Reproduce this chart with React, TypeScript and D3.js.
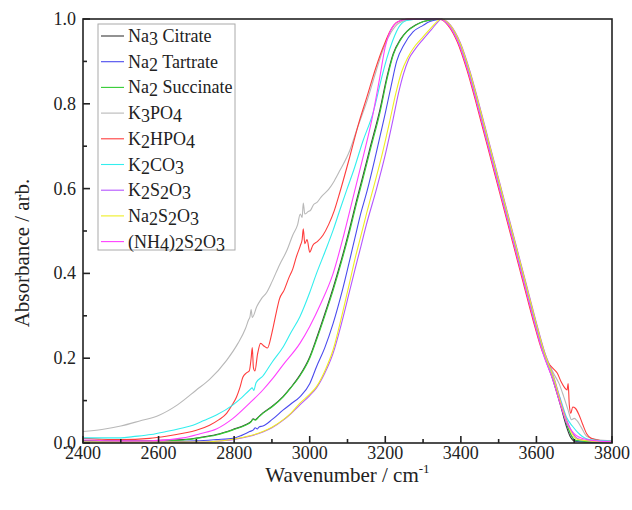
import React from "react";
import * as d3 from "d3";

const W = 632;
const H = 510;
const M = { left: 83, right: 612, top: 19, bottom: 443 };

const xTicks = [2400, 2600, 2800, 3000, 3200, 3400, 3600, 3800];
const xMinorTicks = [2500, 2700, 2900, 3100, 3300, 3500, 3700];
const yTicks = [0, 0.2, 0.4, 0.6, 0.8, 1.0];
const yMinorTicks = [0.1, 0.3, 0.5, 0.7, 0.9];

const seriesNames = [
  "Na3 Citrate",
  "Na2 Tartrate",
  "Na2 Succinate",
  "K3PO4",
  "K2HPO4",
  "K2CO3",
  "K2S2O3",
  "Na2S2O3",
  "(NH4)2S2O3",
];
const seriesColors = [
  "#3a3a3a",
  "#4a4aee",
  "#33cc33",
  "#b8b8b8",
  "#ff3c3c",
  "#33eeee",
  "#b455ff",
  "#eeee22",
  "#ff40ff",
];

type P = [number, number];

const na3Citrate: P[] = [
  [2400, 0.005], [2500, 0.005], [2600, 0.006], [2665, 0.008], [2710, 0.013], [2753, 0.02],
  [2797, 0.032], [2830, 0.043], [2845, 0.051], [2850, 0.057], [2856, 0.055], [2866, 0.063],
  [2876, 0.071], [2900, 0.086], [2930, 0.11], [2950, 0.131], [2974, 0.16], [3000, 0.203],
  [3018, 0.247], [3040, 0.305], [3062, 0.366], [3085, 0.436], [3106, 0.507], [3124, 0.572],
  [3140, 0.627], [3160, 0.697], [3186, 0.787], [3205, 0.866], [3221, 0.918], [3240, 0.952],
  [3257, 0.971], [3280, 0.986], [3301, 0.994], [3330, 0.999], [3344, 1.0],
  [3369, 0.985], [3394, 0.945], [3419, 0.88], [3444, 0.8], [3469, 0.715], [3494, 0.63],
  [3519, 0.545], [3544, 0.46], [3569, 0.375], [3594, 0.29], [3619, 0.21], [3644, 0.148],
  [3664, 0.088], [3679, 0.04], [3690, 0.014], [3702, 0.004], [3740, 0.002], [3800, 0.001],
];

const na2Tartrate: P[] = [
  [2400, 0.003], [2600, 0.003], [2700, 0.005], [2753, 0.008], [2797, 0.011], [2820, 0.018],
  [2841, 0.027], [2851, 0.031], [2856, 0.036], [2861, 0.033], [2866, 0.038], [2876, 0.04],
  [2900, 0.055], [2930, 0.078], [2950, 0.092], [2974, 0.109], [3000, 0.14], [3018, 0.18],
  [3040, 0.225], [3062, 0.282], [3085, 0.355], [3106, 0.432], [3120, 0.485], [3133, 0.534],
  [3152, 0.595], [3175, 0.68], [3199, 0.774], [3215, 0.84], [3230, 0.9], [3250, 0.94],
  [3274, 0.97], [3300, 0.985], [3318, 0.994], [3340, 0.999], [3348, 1.0],
  [3371, 0.985], [3396, 0.945], [3421, 0.88], [3446, 0.8], [3471, 0.715], [3496, 0.63],
  [3521, 0.545], [3546, 0.46], [3571, 0.375], [3596, 0.29], [3621, 0.21], [3646, 0.15],
  [3666, 0.088], [3681, 0.042], [3693, 0.016], [3706, 0.005], [3745, 0.003], [3800, 0.002],
];

const na2Succinate: P[] = [
  [2400, 0.004], [2500, 0.004], [2600, 0.005], [2665, 0.007], [2710, 0.012], [2753, 0.019],
  [2797, 0.031], [2830, 0.042], [2845, 0.05], [2850, 0.056], [2856, 0.054], [2866, 0.062],
  [2876, 0.07], [2900, 0.085], [2930, 0.109], [2950, 0.13], [2974, 0.158], [3000, 0.2],
  [3018, 0.243], [3040, 0.3], [3062, 0.36], [3085, 0.43], [3106, 0.5], [3124, 0.565],
  [3140, 0.62], [3160, 0.69], [3186, 0.78], [3205, 0.86], [3221, 0.915], [3240, 0.95],
  [3257, 0.97], [3280, 0.985], [3301, 0.994], [3330, 0.999], [3345, 1.0],
  [3370, 0.985], [3395, 0.945], [3420, 0.88], [3445, 0.8], [3470, 0.715], [3495, 0.63],
  [3520, 0.545], [3545, 0.46], [3570, 0.375], [3595, 0.29], [3620, 0.21], [3645, 0.15],
  [3665, 0.09], [3680, 0.045], [3692, 0.018], [3705, 0.006], [3740, 0.003], [3800, 0.001],
];

const k3po4: P[] = [
  [2400, 0.027], [2450, 0.032], [2500, 0.04], [2550, 0.052], [2600, 0.065], [2650, 0.09],
  [2700, 0.125], [2735, 0.15], [2780, 0.195], [2810, 0.235], [2830, 0.27], [2838, 0.29],
  [2842, 0.298], [2845, 0.315], [2848, 0.296], [2860, 0.322], [2872, 0.34], [2886, 0.355],
  [2900, 0.38], [2920, 0.42], [2940, 0.455], [2955, 0.49], [2968, 0.515], [2975, 0.54],
  [2980, 0.532], [2983, 0.566], [2987, 0.54], [2995, 0.545], [3003, 0.55], [3010, 0.562],
  [3020, 0.568], [3030, 0.58], [3050, 0.598], [3065, 0.618], [3080, 0.643], [3106, 0.69],
  [3125, 0.74], [3151, 0.805], [3175, 0.875], [3195, 0.93], [3215, 0.968], [3235, 0.99],
  [3260, 0.998], [3300, 1.0], [3346, 1.0],
  [3372, 0.985], [3397, 0.945], [3422, 0.88], [3447, 0.8], [3472, 0.715], [3497, 0.63],
  [3522, 0.545], [3547, 0.46], [3572, 0.375], [3597, 0.29], [3622, 0.213], [3645, 0.165],
  [3660, 0.14], [3672, 0.11], [3683, 0.08], [3693, 0.055], [3700, 0.058], [3708, 0.052],
  [3718, 0.038], [3733, 0.016], [3760, 0.008], [3800, 0.005],
];

const k2hpo4: P[] = [
  [2400, 0.011], [2450, 0.009], [2500, 0.008], [2576, 0.011], [2620, 0.016], [2665, 0.023],
  [2700, 0.03], [2735, 0.042], [2760, 0.055], [2780, 0.07], [2795, 0.09], [2806, 0.108],
  [2815, 0.13], [2823, 0.155], [2832, 0.165], [2840, 0.17], [2845, 0.2], [2848, 0.225],
  [2851, 0.178], [2855, 0.17], [2862, 0.21], [2870, 0.235], [2880, 0.228], [2888, 0.224],
  [2900, 0.26], [2912, 0.31], [2920, 0.34], [2932, 0.36], [2945, 0.39], [2955, 0.41],
  [2965, 0.44], [2975, 0.465], [2980, 0.48], [2983, 0.505], [2987, 0.47], [2993, 0.48],
  [3000, 0.45], [3008, 0.466], [3020, 0.475], [3035, 0.49], [3050, 0.515], [3065, 0.548],
  [3080, 0.592], [3106, 0.675], [3130, 0.755], [3151, 0.815], [3175, 0.885], [3195, 0.935],
  [3215, 0.975], [3232, 0.993], [3260, 1.0], [3342, 1.0],
  [3366, 0.985], [3391, 0.945], [3416, 0.88], [3441, 0.8], [3466, 0.715], [3491, 0.63],
  [3516, 0.545], [3541, 0.46], [3566, 0.375], [3591, 0.29], [3616, 0.215], [3632, 0.188],
  [3645, 0.175], [3655, 0.165], [3665, 0.145], [3675, 0.13], [3681, 0.125], [3684, 0.14],
  [3687, 0.09], [3691, 0.07], [3696, 0.085], [3703, 0.082], [3712, 0.068], [3722, 0.045],
  [3733, 0.022], [3745, 0.011], [3770, 0.006], [3800, 0.004],
];

const k2co3: P[] = [
  [2400, 0.012], [2450, 0.012], [2500, 0.012], [2532, 0.015], [2580, 0.02], [2620, 0.027],
  [2660, 0.035], [2691, 0.042], [2720, 0.053], [2753, 0.066], [2797, 0.09], [2820, 0.107],
  [2841, 0.125], [2848, 0.13], [2852, 0.124], [2858, 0.142], [2876, 0.158], [2900, 0.19],
  [2930, 0.227], [2950, 0.26], [2974, 0.298], [3000, 0.355], [3018, 0.4], [3040, 0.45],
  [3062, 0.502], [3080, 0.55], [3098, 0.597], [3117, 0.645], [3140, 0.71], [3168, 0.78],
  [3190, 0.86], [3204, 0.907], [3220, 0.95], [3239, 0.985], [3260, 0.997], [3300, 1.0],
  [3344, 1.0],
  [3369, 0.985], [3394, 0.945], [3419, 0.88], [3444, 0.8], [3469, 0.715], [3494, 0.63],
  [3519, 0.545], [3544, 0.46], [3569, 0.375], [3594, 0.29], [3619, 0.21], [3645, 0.152],
  [3665, 0.1], [3680, 0.06], [3695, 0.04], [3715, 0.02], [3740, 0.008], [3800, 0.004],
];

const k2s2o3: P[] = [
  [2400, 0.003], [2700, 0.002], [2753, 0.004], [2797, 0.008], [2841, 0.016], [2876, 0.026],
  [2900, 0.036], [2930, 0.054], [2950, 0.069], [2974, 0.09], [3000, 0.112], [3018, 0.13],
  [3040, 0.165], [3062, 0.212], [3085, 0.285], [3106, 0.36], [3120, 0.41], [3133, 0.455],
  [3150, 0.515], [3177, 0.6], [3200, 0.68], [3221, 0.765], [3235, 0.825], [3248, 0.87],
  [3262, 0.905], [3280, 0.93], [3300, 0.952], [3322, 0.975], [3340, 0.994], [3349, 1.0],
  [3373, 0.985], [3398, 0.945], [3423, 0.88], [3448, 0.8], [3473, 0.715], [3498, 0.63],
  [3523, 0.545], [3548, 0.46], [3573, 0.375], [3598, 0.29], [3623, 0.21], [3648, 0.15],
  [3667, 0.09], [3682, 0.05], [3695, 0.025], [3710, 0.01], [3750, 0.004], [3800, 0.002],
];

const na2s2o3: P[] = [
  [2400, 0.002], [2700, 0.002], [2753, 0.004], [2797, 0.009], [2841, 0.017], [2876, 0.027],
  [2900, 0.037], [2930, 0.055], [2950, 0.07], [2974, 0.094], [3000, 0.115], [3018, 0.133],
  [3040, 0.17], [3062, 0.22], [3085, 0.3], [3106, 0.38], [3120, 0.435], [3133, 0.48],
  [3150, 0.54], [3168, 0.6], [3190, 0.675], [3212, 0.76], [3228, 0.825], [3243, 0.875],
  [3260, 0.91], [3280, 0.938], [3300, 0.958], [3320, 0.978], [3338, 0.995], [3347, 1.0],
  [3372, 0.985], [3397, 0.945], [3422, 0.88], [3447, 0.8], [3472, 0.715], [3497, 0.63],
  [3522, 0.545], [3547, 0.46], [3572, 0.375], [3597, 0.29], [3622, 0.21], [3647, 0.15],
  [3666, 0.09], [3681, 0.048], [3694, 0.022], [3708, 0.009], [3750, 0.004], [3800, 0.002],
];

const nh42s2o3: P[] = [
  [2400, 0.007], [2500, 0.005], [2576, 0.005], [2665, 0.012], [2710, 0.022], [2753, 0.033],
  [2797, 0.058], [2841, 0.094], [2876, 0.125], [2900, 0.15], [2930, 0.185], [2974, 0.235],
  [3000, 0.275], [3030, 0.33], [3062, 0.4], [3090, 0.49], [3115, 0.58], [3140, 0.67],
  [3165, 0.765], [3185, 0.86], [3200, 0.935], [3215, 0.975], [3230, 0.992], [3255, 0.999],
  [3330, 1.0], [3343, 1.0],
  [3368, 0.985], [3393, 0.945], [3418, 0.88], [3443, 0.8], [3468, 0.715], [3493, 0.63],
  [3518, 0.545], [3543, 0.46], [3568, 0.375], [3593, 0.29], [3618, 0.21], [3643, 0.15],
  [3663, 0.092], [3678, 0.052], [3692, 0.03], [3705, 0.018], [3725, 0.01], [3760, 0.005],
  [3800, 0.003],
];

const seriesData: P[][] = [
  na3Citrate, na2Tartrate, na2Succinate, k3po4, k2hpo4, k2co3, k2s2o3, na2s2o3, nh42s2o3,
];

const FONT = '"Liberation Serif", Tinos, "Times New Roman", "DejaVu Serif", serif';

function chemLabel(s: string) {
  const parts: { t: string; sub: boolean }[] = [];
  for (let i = 0; i < s.length; i++) {
    const c = s[i];
    const isSub = /[0-9]/.test(c) && i > 0 && /[A-Za-z)]/.test(s[i - 1]);
    const last = parts[parts.length - 1];
    if (last && last.sub === isSub) last.t += c;
    else parts.push({ t: c, sub: isSub });
  }
  return parts.map((p, i) => (
    <tspan key={i} dy={p.sub ? 3 : i > 0 && parts[i - 1].sub ? -3 : 0}>
      {p.t}
    </tspan>
  ));
}

const txt = { fontFamily: FONT, fill: "#222" } as React.CSSProperties;

export default function App() {
  const x = d3.scaleLinear().domain([2400, 3800]).range([M.left, M.right]);
  const y = d3.scaleLinear().domain([0, 1]).range([M.bottom, M.top]);
  const line = d3
    .line<P>()
    .x((d) => x(d[0]))
    .y((d) => y(d[1]))
    .curve(d3.curveMonotoneX);

  const legendX = 98;
  const legendY = 24;
  const rowH = 25.7;

  return (
    <svg
      width={W}
      height={H}
      style={{ position: "absolute", left: 0, top: 0, background: "#fff", fontFamily: FONT }}
    >
      <rect x={0} y={0} width={W} height={H} fill="#fff" />
      <defs>
        <clipPath id="plotClip">
          <rect x={M.left} y={M.top - 2} width={M.right - M.left} height={M.bottom - M.top + 2} />
        </clipPath>
      </defs>
      <g clipPath="url(#plotClip)">
        {seriesData.map((d, i) => (
          <path key={i} d={line(d) || ""} fill="none" stroke={seriesColors[i]} strokeWidth={1.1} />
        ))}
      </g>

      <rect
        x={M.left}
        y={M.top}
        width={M.right - M.left}
        height={M.bottom - M.top}
        fill="none"
        stroke="#222"
        strokeWidth={1.6}
      />

      {xTicks.map((t) => (
        <g key={"xt" + t}>
          <line x1={x(t)} x2={x(t)} y1={M.bottom} y2={M.bottom - 7} stroke="#222" strokeWidth={1.6} />
          <text x={x(t)} y={M.bottom + 16} textAnchor="middle" fontSize={18} style={txt}>
            {t}
          </text>
        </g>
      ))}
      {xMinorTicks.map((t) => (
        <line key={"xm" + t} x1={x(t)} x2={x(t)} y1={M.bottom} y2={M.bottom - 4} stroke="#222" strokeWidth={1.6} />
      ))}

      {yTicks.map((t) => (
        <g key={"yt" + t}>
          <line x1={M.left} x2={M.left + 7} y1={y(t)} y2={y(t)} stroke="#222" strokeWidth={1.6} />
          <text x={M.left - 7} y={y(t) + 6} textAnchor="end" fontSize={18} style={txt}>
            {d3.format(".1f")(t)}
          </text>
        </g>
      ))}
      {yMinorTicks.map((t) => (
        <line key={"ym" + t} x1={M.left} x2={M.left + 4} y1={y(t)} y2={y(t)} stroke="#222" strokeWidth={1.6} />
      ))}

      <text x={(M.left + M.right) / 2} y={482} textAnchor="middle" fontSize={21} style={txt}>
        Wavenumber / cm
        <tspan fontSize={13} dy={-9}>
          -1
        </tspan>
      </text>
      <text
        transform={`translate(29, ${(M.top + M.bottom) / 2 + 22}) rotate(-90)`}
        textAnchor="middle"
        fontSize={21}
        style={txt}
      >
        Absorbance / arb.
      </text>

      <rect x={legendX} y={legendY} width={137} height={226} fill="#fff" stroke="#aaa" strokeWidth={1} />
      {seriesNames.map((n, i) => {
        const cy = legendY + 12 + i * rowH;
        return (
          <g key={n}>
            <line x1={legendX + 3} x2={legendX + 26} y1={cy} y2={cy} stroke={seriesColors[i]} strokeWidth={1.1} />
            <text x={legendX + 30} y={cy + 6} fontSize={18} style={txt}>
              {chemLabel(n)}
            </text>
          </g>
        );
      })}
    </svg>
  );
}
